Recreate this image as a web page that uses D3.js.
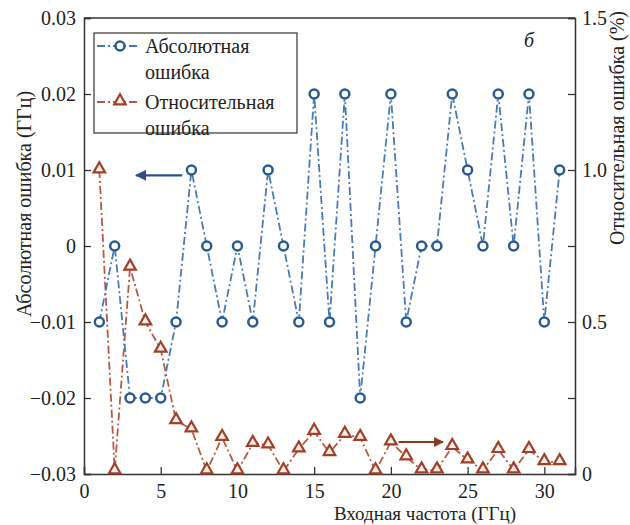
<!DOCTYPE html>
<html>
<head>
<meta charset="utf-8">
<script src="https://cdn.jsdelivr.net/npm/d3@7"></script>
<style>
  body { margin: 0; background: #fff; }
  svg text { font-family: "Times New Roman", "Liberation Serif", Tinos, "DejaVu Serif", serif; fill: #222; }
</style>
</head>
<body>
<div id="chart"></div>
<script>
var freq = [1, 2, 3, 4, 5, 6, 7, 8, 9, 10, 11, 12, 13, 14, 15, 16,
            17, 18, 19, 20, 21, 22, 23, 24, 25, 26, 27, 28, 29, 30, 31];
// абсолютная ошибка (ГГц)
var absErr = [-0.01, 0, -0.02, -0.02, -0.02, -0.01, 0.01, 0, -0.01, 0, -0.01, 0.01, 0, -0.01, 0.02, -0.01,
              0.02, -0.02, 0, 0.02, -0.01, 0, 0, 0.02, 0.01, 0, 0.02, 0, 0.02, -0.01, 0.01];
// относительная ошибка (%)
var relErr = [1.0, 0.01, 0.68, 0.5, 0.41, 0.175, 0.148, 0.01, 0.12, 0.01, 0.10, 0.095, 0.01, 0.082, 0.14, 0.07,
              0.13, 0.12, 0.01, 0.105, 0.056, 0.013, 0.013, 0.09, 0.046, 0.013, 0.08, 0.013, 0.08, 0.04, 0.04];
var xTicks = [0, 5, 10, 15, 20, 25, 30];
var yLeftTicks = [-0.03, -0.02, -0.01, 0, 0.01, 0.02, 0.03];
var yRightTicks = [0, 0.25, 0.5, 0.75, 1.0, 1.25, 1.5];
var yRightLabels = [0, 0.5, 1.0, 1.5];

var width = 630, height = 525;
var mLeft = 84, mRight = 575, mTop = 18, mBottom = 474;
var serif = "'Times New Roman', 'Liberation Serif', Tinos, 'DejaVu Serif', serif";

var blueLine = "#4a7bb2", blueMark = "#285b8f";
var redLine = "#b75a44", redMark = "#a0402a";

var svg = d3.select("#chart").append("svg")
    .attr("width", width)
    .attr("height", height)
    .style("font-family", serif);

var xScale = d3.scaleLinear().domain([0, 32]).range([mLeft, mRight]);
var yScale = d3.scaleLinear().domain([-0.03, 0.03]).range([mBottom, mTop]);
var yScale2 = d3.scaleLinear().domain([0, 1.5]).range([mBottom, mTop]);

//оси
var xAxis = d3.axisBottom(xScale).tickValues(xTicks).tickSize(-7).tickPadding(10);
var yAxis = d3.axisLeft(yScale).tickValues(yLeftTicks).tickSize(-7).tickPadding(8)
    .tickFormat(function(d) { return Math.abs(d) < 1e-9 ? "0" : d3.format(".2f")(d); });
var yAxis2 = d3.axisRight(yScale2).tickValues(yRightTicks).tickSize(-7).tickPadding(7)
    .tickFormat(function(d) {
        if (yRightLabels.indexOf(d) < 0) return "";
        return d === 0 ? "0" : d3.format(".1f")(d);
    });

function styleAxis(g) {
    g.attr("font-family", serif);
    g.select(".domain").attr("stroke", "#333").attr("stroke-width", 1.5);
    g.selectAll(".tick line").attr("stroke", "#333").attr("stroke-width", 1.3);
    g.selectAll(".tick text").attr("font-size", 20).attr("fill", "#222")
        .style("font-family", serif);
}

svg.append("g").attr("transform", "translate(0," + mBottom + ")").call(xAxis).call(styleAxis);
svg.append("g").attr("transform", "translate(" + mLeft + ",0)").call(yAxis).call(styleAxis);
svg.append("g").attr("transform", "translate(" + mRight + ",0)").call(yAxis2).call(styleAxis);
// верхняя граница
svg.append("line")
    .attr("x1", mLeft).attr("x2", mRight).attr("y1", mTop).attr("y2", mTop)
    .attr("stroke", "#333").attr("stroke-width", 1.5);

//подписи осей
svg.append("text")
    .attr("x", 425).attr("y", 520)
    .attr("text-anchor", "middle").attr("font-size", 19)
    .text("Входная частота (ГГц)");
svg.append("text")
    .attr("transform", "translate(31,204) rotate(-90)")
    .attr("text-anchor", "middle").attr("font-size", 20)
    .text("Абсолютная ошибка (ГГц)");
svg.append("text")
    .attr("transform", "translate(624,128) rotate(-90)")
    .attr("text-anchor", "middle").attr("font-size", 20)
    .text("Относительная ошибка (%)");
svg.append("text")
    .attr("x", 524).attr("y", 47)
    .attr("font-size", 20).attr("font-style", "italic")
    .text("б");

var dash = "8,3,2,3";

//линии
var lineAbs = d3.line()
    .x(function(d, i) { return xScale(freq[i]); })
    .y(function(d) { return yScale(d); });
var lineRel = d3.line()
    .x(function(d, i) { return xScale(freq[i]); })
    .y(function(d) { return yScale2(d); });

svg.append("path").datum(relErr)
    .attr("d", lineRel).attr("fill", "none")
    .attr("stroke", redLine).attr("stroke-width", 1.8).attr("stroke-dasharray", dash);
svg.append("path").datum(absErr)
    .attr("d", lineAbs).attr("fill", "none")
    .attr("stroke", blueLine).attr("stroke-width", 1.8).attr("stroke-dasharray", dash);

var tri = d3.symbol().type(d3.symbolTriangle).size(58);

svg.selectAll(".tri")
    .data(relErr)
    .enter()
    .append("path")
    .attr("class", "tri")
    .attr("d", tri)
    .attr("transform", function(d, i) {
        return "translate(" + xScale(freq[i]) + "," + (yScale2(d) - 1) + ")";
    })
    .attr("fill", "#fbeee9")
    .attr("stroke", redMark)
    .attr("stroke-width", 2.2);

svg.selectAll(".circ")
    .data(absErr)
    .enter()
    .append("circle")
    .attr("class", "circ")
    .attr("cx", function(d, i) { return xScale(freq[i]); })
    .attr("cy", function(d) { return yScale(d); })
    .attr("r", 4.5)
    .attr("fill", "#fff")
    .attr("stroke", blueMark)
    .attr("stroke-width", 2.5);

//стрелки
var defs = svg.append("defs");
function marker(id, color) {
    defs.append("marker")
        .attr("id", id)
        .attr("viewBox", "0 0 10 10")
        .attr("refX", 9).attr("refY", 5)
        .attr("markerWidth", 5).attr("markerHeight", 5)
        .attr("orient", "auto")
        .append("path").attr("d", "M0,0L10,5L0,10z").attr("fill", color);
}
marker("arrBlue", "#2f4f8c");
marker("arrRed", "#8a3a1f");
svg.append("line")
    .attr("x1", xScale(6.4)).attr("x2", xScale(3.4))
    .attr("y1", yScale(0.0093)).attr("y2", yScale(0.0093))
    .attr("stroke", "#2f4f8c").attr("stroke-width", 2.2)
    .attr("marker-end", "url(#arrBlue)");
svg.append("line")
    .attr("x1", xScale(20.5)).attr("x2", xScale(23.4))
    .attr("y1", yScale2(0.105)).attr("y2", yScale2(0.105))
    .attr("stroke", "#8a3a1f").attr("stroke-width", 2)
    .attr("marker-end", "url(#arrRed)");

//легенда
var legend = svg.append("g");
legend.append("rect")
    .attr("x", 94).attr("y", 33).attr("width", 203).attr("height", 100)
    .attr("fill", "#fff").attr("stroke", "#333").attr("stroke-width", 1.2);
var legItems = [
    { lines: ["Абсолютная", "ошибка"], y: 46, color: blueLine, mark: blueMark, shape: "circle" },
    { lines: ["Относительная", "ошибка"], y: 102, color: redLine, mark: redMark, shape: "tri" }
];
legItems.forEach(function(it, k) {
    legend.append("line")
        .attr("x1", 97).attr("x2", 140).attr("y1", it.y).attr("y2", it.y)
        .attr("stroke", it.color).attr("stroke-width", 1.8).attr("stroke-dasharray", dash);
    if (it.shape === "circle") {
        legend.append("circle").attr("cx", 120).attr("cy", it.y).attr("r", 4.5)
            .attr("fill", "#fff").attr("stroke", it.mark).attr("stroke-width", 2.5);
    } else {
        legend.append("path").attr("d", tri)
            .attr("transform", "translate(120," + (it.y - 1) + ")")
            .attr("fill", "#fbeee9").attr("stroke", it.mark).attr("stroke-width", 2.2);
    }
    legend.append("text").attr("x", 145).attr("y", it.y + 7).attr("font-size", 20).text(it.lines[0]);
    legend.append("text").attr("x", 145).attr("y", it.y + 33).attr("font-size", 20).text(it.lines[1]);
});
</script>
</body>
</html>
